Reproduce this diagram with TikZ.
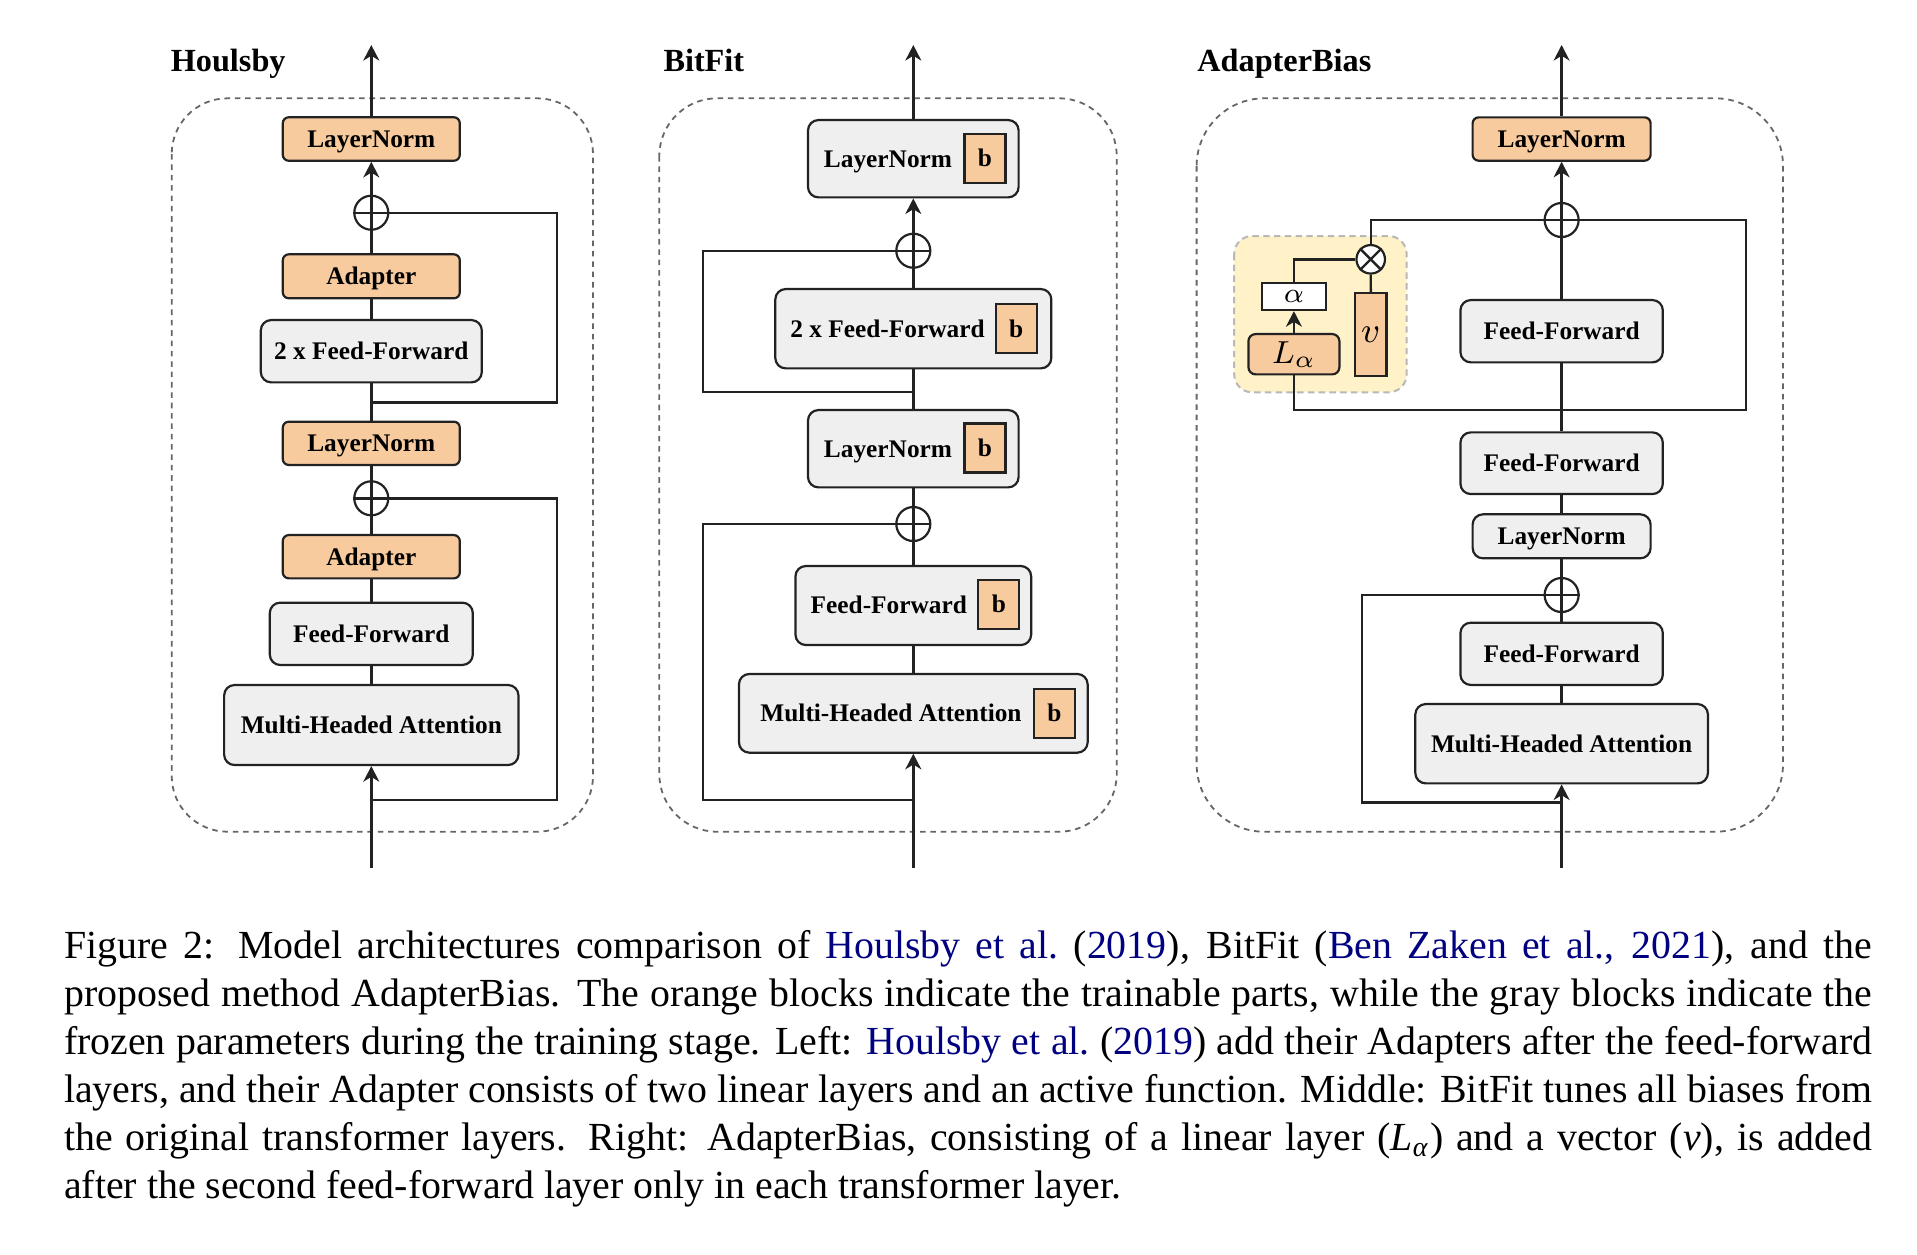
\documentclass[tikz,border=0pt]{standalone}
\usepackage{fontspec}
\setmainfont{Liberation Serif}
\usetikzlibrary{arrows.meta,calc}
\definecolor{orfill}{HTML}{F8CB9F}
\definecolor{grfill}{HTML}{EFEFEF}
\definecolor{yelfill}{HTML}{FFF2C8}
\definecolor{linkblue}{rgb}{0,0,0.5}
\definecolor{edge}{HTML}{222222}
\def\ux{0.251pt}
\begin{document}
\begin{tikzpicture}[x=0.251pt, y=-0.251pt,
  ln/.style={draw=edge, line width=0.6pt},
  arr/.style={ln, -{Stealth[length=3.9pt,width=4pt,inset=1.2pt]}},
  panel/.style={draw=black!60, line width=0.45pt, dash pattern=on 1.4pt off 1.2pt},
  blk/.style={draw=edge, line width=0.55pt, inner sep=0pt, text height=4.2pt, text depth=0pt,
    font=\fontsize{6.36pt}{7.6pt}\selectfont\bfseries},
  org/.style={blk, fill=orfill, rounded corners=1.5pt},
  gry/.style={blk, fill=grfill, rounded corners=2.6pt},
  bsq/.style={blk, fill=orfill, minimum width=41*\ux, minimum height=49*\ux},
  lbl/.style={inner sep=0pt, text height=4.2pt, text depth=0pt, font=\fontsize{6.36pt}{7.6pt}\selectfont\bfseries},
  sz/.style 2 args={minimum width=#1*\ux, minimum height=#2*\ux},
  sumc/.style={circle, draw=edge, line width=0.55pt, fill=white, inner sep=0pt, minimum size=34*\ux},
  mulc/.style={circle, draw=edge, line width=0.55pt, fill=white, inner sep=0pt, minimum size=28.5*\ux},
  ttl/.style={anchor=base west, inner sep=0pt, font=\fontsize{8.1pt}{9pt}\selectfont\bfseries},
  capl/.style={anchor=base west, inner sep=0pt, font=\fontsize{10pt}{12pt}\selectfont}
]
\useasboundingbox (0,0) rectangle (1917,1254);

% ---------------- panels ----------------
\draw[panel, rounded corners=14pt] (171.7,98.3) rectangle (593,831.7);
\draw[panel, rounded corners=14.5pt] (659.3,98.3) rectangle (1116.7,831.7);
\draw[panel, rounded corners=17pt] (1196.6,98.3) rectangle (1783,831.7);

% ---------------- titles ----------------
\node[ttl] (tH) at (170,71.7) {Houlsby};
\node[ttl] (tB) at (662.7,71.7) {BitFit};
\node[ttl] (tA) at (1196.6,71.7) {AdapterBias};

% ================= Houlsby =================
\coordinate (hOut) at (371.3,45);
\coordinate (hIn) at (371.3,868);
\node[org, sz={177}{43.5}] (hLN1) at (371.3,139) {LayerNorm};
\node[sumc] (hP1) at (371.3,212.7) {};
\node[org, sz={177}{44}] (hAd1) at (371.3,276.3) {Adapter};
\node[gry, sz={221}{62.3}] (hFF2) at (371.3,351.2) {2 x Feed-Forward};
\node[org, sz={177}{43.3}] (hLN2) at (371.3,443.3) {LayerNorm};
\node[sumc] (hP2) at (371.3,498.3) {};
\node[org, sz={177}{43.3}] (hAd2) at (371.3,556.7) {Adapter};
\node[gry, sz={203}{62.3}] (hFF) at (371.3,633.8) {Feed-Forward};
\node[gry, sz={294.3}{80}] (hMHA) at (371.3,725) {Multi-Headed Attention};
\coordinate (hJ1) at (371.3,402.3);
\coordinate (hK1) at (556.7,402.3);
\coordinate (hJ2) at (371.3,800);
\coordinate (hK2) at (556.7,800);

\draw[ln] (hP1.north) -- (hP1.south) (hP1.west) -- (hP1.east);
\draw[ln] (hP2.north) -- (hP2.south) (hP2.west) -- (hP2.east);
\draw[arr] (hLN1.north) -- (hOut);
\draw[arr] (hP1.north) -- (hLN1.south);
\draw[ln] (hAd1.north) -- (hP1.south);
\draw[ln] (hFF2.north) -- (hAd1.south);
\draw[ln] (hLN2.north) -- (hFF2.south);
\draw[ln] (hP2.north) -- (hLN2.south);
\draw[ln] (hAd2.north) -- (hP2.south);
\draw[ln] (hFF.north) -- (hAd2.south);
\draw[ln] (hMHA.north) -- (hFF.south);
\draw[arr] (hIn) -- (hMHA.south);
\draw[ln] (hJ1) -- (hK1) |- (hP1.east);
\draw[ln] (hJ2) -- (hK2) |- (hP2.east);

% ================= BitFit =================
\coordinate (bOut) at (913.3,45);
\coordinate (bIn) at (913.3,868);
\node[gry, sz={210.6}{77.3}] (bLN1) at (913.3,158.7) {};
\node[lbl] (bLN1t) at (888,158.7) {LayerNorm};
\node[bsq] (bLN1b) at (985,158.3) {b};
\node[sumc] (bP1) at (913.3,250.7) {};
\node[gry, sz={276}{79.3}] (bFF2) at (913.3,328.7) {};
\node[lbl] (bFF2t) at (887.5,328.7) {2 x Feed-Forward};
\node[bsq] (bFF2b) at (1016.2,328.7) {b};
\node[gry, sz={210.6}{77.3}] (bLN2) at (913.3,448.7) {};
\node[lbl] (bLN2t) at (888,448.7) {LayerNorm};
\node[bsq] (bLN2b) at (985,448) {b};
\node[sumc] (bP2) at (913.3,524) {};
\node[gry, sz={235.7}{79}] (bFF) at (913.3,605.5) {};
\node[lbl] (bFFt) at (888.8,605.5) {Feed-Forward};
\node[bsq] (bFFb) at (998.8,604.5) {b};
\node[gry, sz={348.7}{78.7}] (bMHA) at (913.3,713.3) {};
\node[lbl] (bMHAt) at (891,713.3) {Multi-Headed Attention};
\node[bsq] (bMHAb) at (1054.5,713.3) {b};
\coordinate (bJ1) at (913.3,391.7);
\coordinate (bK1) at (702.7,391.7);
\coordinate (bJ2) at (913.3,800);
\coordinate (bK2) at (702.7,800);

\draw[ln] (bP1.north) -- (bP1.south) (bP1.west) -- (bP1.east);
\draw[ln] (bP2.north) -- (bP2.south) (bP2.west) -- (bP2.east);
\draw[arr] (bLN1.north) -- (bOut);
\draw[arr] (bP1.north) -- (bLN1.south);
\draw[ln] (bFF2.north) -- (bP1.south);
\draw[ln] (bLN2.north) -- (bFF2.south);
\draw[ln] (bP2.north) -- (bLN2.south);
\draw[ln] (bFF.north) -- (bP2.south);
\draw[ln] (bMHA.north) -- (bFF.south);
\draw[arr] (bIn) -- (bMHA.south);
\draw[ln] (bJ1) -- (bK1) |- (bP1.west);
\draw[ln] (bJ2) -- (bK2) |- (bP2.west);

% ================= AdapterBias =================
\coordinate (aOut) at (1561.6,45);
\coordinate (aIn) at (1561.6,868);
\fill[yelfill, rounded corners=4.5pt] (1234.2,236) rectangle (1406.6,392.3);
\draw[draw=black!28, line width=0.5pt, dash pattern=on 1.6pt off 1.1pt, rounded corners=4.5pt] (1234.2,236) rectangle (1406.6,392.3);

\node[org, sz={178}{43.3}] (aLN1) at (1561.6,139) {LayerNorm};
\node[sumc] (aP1) at (1561.6,220) {};
\node[gry, sz={202.4}{62.3}] (aFFu) at (1561.6,331.2) {Feed-Forward};
\node[gry, sz={202.4}{61.7}] (aFFm) at (1561.6,463.2) {Feed-Forward};
\node[gry, sz={178}{44}] (aLN2) at (1561.6,536.3) {LayerNorm};
\node[sumc] (aP2) at (1561.6,595) {};
\node[gry, sz={202.4}{62.3}] (aFFb) at (1561.6,653.8) {Feed-Forward};
\node[gry, sz={292.6}{79.3}] (aMHA) at (1561.6,743.7) {Multi-Headed Attention};

\node[mulc] (aM) at (1370.7,259.3) {};
\node[draw=edge, line width=0.55pt, fill=white, inner sep=0pt, sz={64.5}{26.7},
  font=\fontsize{7.3pt}{8pt}\selectfont] (aA) at (1293.9,296.7) {$\alpha$};
\node[draw=edge, line width=0.55pt, fill=orfill, rounded corners=1.8pt, inner sep=0pt, sz={91}{40.3},
  font=\fontsize{8.2pt}{9pt}\selectfont] (aL) at (1293.9,354.2) {$L_\alpha$};
\node[draw=edge, line width=0.55pt, fill=orfill, inner sep=0pt, sz={31.2}{82.4},
  font=\fontsize{8.6pt}{9pt}\selectfont] (aV) at (1370.8,334.5) {$v$};

\coordinate (aJ) at (1561.6,410);
\coordinate (aKr) at (1746.2,410);
\coordinate (aKl) at (1293.9,410);
\coordinate (aJ2) at (1561.6,802.3);
\coordinate (aK2) at (1361.9,802.3);

\draw[ln] (aP1.north) -- (aP1.south) (aP1.west) -- (aP1.east);
\draw[ln] (aP2.north) -- (aP2.south) (aP2.west) -- (aP2.east);
\draw[ln] (aM.north east) -- (aM.south west) (aM.north west) -- (aM.south east);
\draw[arr] (aLN1.north) -- (aOut);
\draw[arr] (aP1.north) -- (aLN1.south);
\draw[ln] (aFFu.north) -- (aP1.south);
\draw[ln] (aFFm.north) -- (aFFu.south);
\draw[ln] (aLN2.north) -- (aFFm.south);
\draw[ln] (aP2.north) -- (aLN2.south);
\draw[ln] (aFFb.north) -- (aP2.south);
\draw[ln] (aMHA.north) -- (aFFb.south);
\draw[arr] (aIn) -- (aMHA.south);
\draw[ln] (aJ) -- (aKr) |- (aP1.east);
\draw[ln] (aJ) -- (aKl) -- (aL.south);
\draw[arr] (aL.north) -- (aA.south);
\draw[ln] (aA.north) |- (aM.west);
\draw[ln] (aV.north) -- (aM.south);
\draw[ln] (aM.north) |- (aP1.west);
\draw[ln] (aJ2) -- (aK2) |- (aP2.west);

% ================= caption =================
\node[capl] (c1) at (63.3,958.3) {\makebox[453.86pt][s]{Figure 2: Model architectures comparison of \textcolor{linkblue}{Houlsby et~al.}\ (\textcolor{linkblue}{2019}), BitFit (\textcolor{linkblue}{Ben Zaken et~al., 2021}), and the}};
\node[capl] (c2) at (63.3,1006.3) {\makebox[453.86pt][s]{proposed method AdapterBias. The orange blocks indicate the trainable parts, while the gray blocks indicate the}};
\node[capl] (c3) at (63.3,1054.3) {\makebox[453.86pt][s]{frozen parameters during the training stage. Left: \textcolor{linkblue}{Houlsby et~al.}\ (\textcolor{linkblue}{2019}) add their Adapters after the feed-forward}};
\node[capl] (c4) at (63.3,1102.3) {\makebox[453.86pt][s]{layers, and their Adapter consists of two linear layers and an active function. Middle: BitFit tunes all biases from}};
\node[capl] (c5) at (63.3,1150.3) {\makebox[453.86pt][s]{the original transformer layers. Right: AdapterBias, consisting of a linear layer (\textit{L}\textsubscript{\textit{α}}) and a vector (\textit{v}), is added}};
\node[capl] (c6) at (63.3,1198.3) {after the second feed-forward layer only in each transformer layer.};
\end{tikzpicture}
\end{document}
